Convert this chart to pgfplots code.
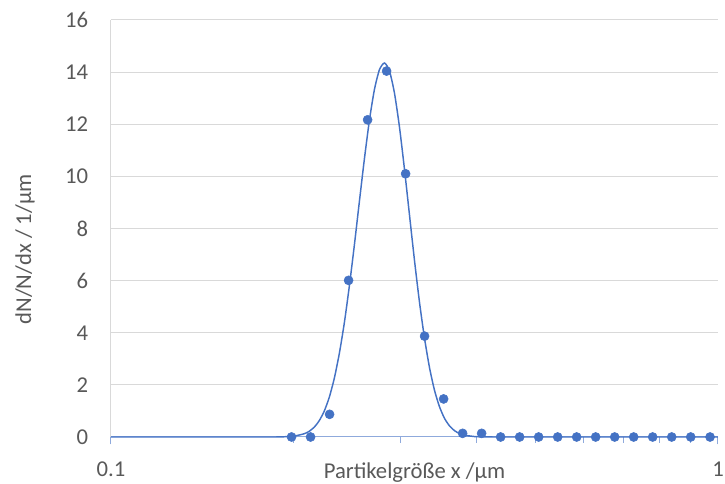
\documentclass[border=0pt]{standalone}
\usepackage{fontspec}
\setmainfont{Carlito}
\usepackage{pgfplots}
\pgfplotsset{compat=1.18}

\definecolor{serieblue}{RGB}{68,114,196}
\definecolor{gridgray}{RGB}{217,217,217}
\definecolor{textgray}{RGB}{89,89,89}
\definecolor{axisblue}{RGB}{143,170,220}

\newcommand{\chartfont}{\fontsize{17}{20}\selectfont}

\begin{document}
\begin{tikzpicture}
\begin{axis}[
  scale only axis,
  width=455.25pt, height=312.75pt,
  xmode=log, log basis x=10,
  xmin=0.1, xmax=1,
  ymin=0, ymax=16,
  xtick={0.1,1}, xticklabels={0.1,1},
  minor xtick={0.2,0.3,0.4,0.5,0.6,0.7,0.8,0.9},
  ytick={0,2,4,6,8,10,12,14,16},
  /pgf/number format/assume math mode=true,
  axis x line*=bottom, axis y line*=left,
  x axis line style={draw=axisblue, line width=0.75pt},
  y axis line style={draw=gridgray, line width=0.75pt},
  tick align=outside,
  xtick style={draw=axisblue, line width=0.75pt},
  major tick length=5.5pt, minor tick length=4.5pt,
  ytick style={draw=none},
  ymajorgrids, grid style={draw=gridgray, line width=0.75pt},
  tick label style={font=\chartfont, text=textgray},
  yticklabel style={inner sep=0pt, anchor=east, xshift=-11.5pt},
  xticklabel style={inner sep=0pt, anchor=north, yshift=-13pt},
  label style={font=\chartfont, text=textgray},
  xlabel={Partikelgröße x /µm},
  xlabel style={at={(axis description cs:0.5,0)}, anchor=base, inner sep=0pt, yshift=-31pt},
  ylabel={dN/N/dx / 1/µm},
  ylabel style={at={([xshift=-64.5pt]axis description cs:0,0.45)}, anchor=center, inner sep=0pt},
  clip=false,
]
% fitted distribution curve
\addplot[serieblue, line width=1.1pt, smooth, tension=0.4] coordinates {
  (0.1,0) (0.15,0) (0.1858,0) (0.19295,0.009) (0.20042,0.036)
  (0.20819,0.126) (0.21218,0.22) (0.21625,0.38) (0.22040,0.63)
  (0.22463,1.00) (0.22894,1.53) (0.23333,2.26) (0.23781,3.21)
  (0.24237,4.39) (0.24702,5.80) (0.25176,7.37) (0.25659,9.04)
  (0.26151,10.67) (0.26653,12.15) (0.27164,13.33) (0.27685,14.09)
  (0.28216,14.35) (0.28757,14.05) (0.29308,13.20) (0.29871,11.90)
  (0.30444,10.28) (0.31027,8.53) (0.31623,6.78) (0.32229,5.17)
  (0.32848,3.79) (0.33478,2.66) (0.34120,1.79) (0.34775,1.16)
  (0.35442,0.715) (0.36122,0.425) (0.36815,0.242) (0.37521,0.132)
  (0.38241,0.069) (0.39722,0.017) (0.41261,0.003) (0.45,0) (1,0)
};
% measured size classes
\addplot[only marks, mark=*, mark size=3.4pt, serieblue, mark options={draw=serieblue, fill=serieblue}] coordinates {
  (0.19837,0) (0.21320,0) (0.22914,0.87) (0.24627,6.01) (0.26469,12.17)
  (0.28448,14.04) (0.30575,10.10) (0.32860,3.87) (0.35318,1.46)
  (0.37958,0.14) (0.40796,0.14) (0.43846,0) (0.47124,0) (0.50648,0)
  (0.54436,0) (0.58506,0) (0.62880,0) (0.67581,0) (0.72634,0)
  (0.78065,0) (0.83901,0) (0.90174,0) (0.97036,0)
};
\coordinate (sw) at (rel axis cs:0,0);
\coordinate (ne) at (rel axis cs:1,1);
\end{axis}
\pgfresetboundingbox
\path ([shift={(-83.25pt,-35.25pt)}]sw) rectangle ([shift={(5.25pt,15pt)}]ne);
\end{tikzpicture}
\end{document}
